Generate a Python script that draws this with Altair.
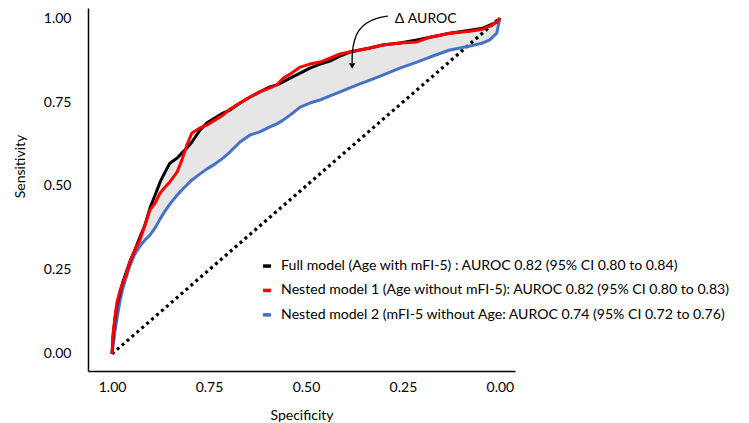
import altair as alt
import pandas as pd

# ---- data ----
specificity = [1.000, 0.997, 0.992, 0.987, 0.979, 0.972, 0.964, 0.954, 0.941, 0.928,
               0.915, 0.902, 0.889, 0.876, 0.863, 0.851, 0.832, 0.820, 0.807, 0.794,
               0.773, 0.755, 0.735, 0.714, 0.696, 0.670, 0.644, 0.619, 0.593, 0.575,
               0.559, 0.541, 0.515, 0.490, 0.464, 0.438, 0.412, 0.387, 0.361, 0.335,
               0.302, 0.258, 0.214, 0.180, 0.129, 0.077, 0.044, 0.026, 0.008, 0.000]

full_model = [0.000, 0.057, 0.107, 0.146, 0.185, 0.214, 0.241, 0.274, 0.310, 0.348,
              0.384, 0.435, 0.473, 0.512, 0.542, 0.568, 0.583, 0.598, 0.613, 0.631,
              0.667, 0.688, 0.702, 0.717, 0.726, 0.747, 0.765, 0.780, 0.795, 0.801,
              0.810, 0.821, 0.836, 0.851, 0.863, 0.872, 0.887, 0.899, 0.905, 0.911,
              0.920, 0.926, 0.935, 0.943, 0.955, 0.964, 0.970, 0.979, 0.988, 1.000]

nested_model_1 = [0.000, 0.063, 0.116, 0.155, 0.190, 0.211, 0.235, 0.274, 0.310, 0.339,
                  0.384, 0.429, 0.449, 0.479, 0.497, 0.512, 0.542, 0.577, 0.622, 0.658,
                  0.673, 0.682, 0.696, 0.711, 0.729, 0.747, 0.765, 0.780, 0.792, 0.801,
                  0.821, 0.833, 0.854, 0.863, 0.869, 0.881, 0.893, 0.899, 0.905, 0.911,
                  0.920, 0.926, 0.929, 0.943, 0.955, 0.961, 0.967, 0.976, 0.988, 1.000]

nested_model_2 = [0.000, 0.027, 0.071, 0.107, 0.161, 0.196, 0.226, 0.262, 0.298, 0.321,
                  0.339, 0.354, 0.375, 0.402, 0.426, 0.446, 0.473, 0.488, 0.503, 0.518,
                  0.536, 0.551, 0.565, 0.583, 0.601, 0.631, 0.652, 0.661, 0.676, 0.685,
                  0.696, 0.711, 0.735, 0.747, 0.756, 0.768, 0.780, 0.792, 0.804, 0.815,
                  0.830, 0.851, 0.869, 0.884, 0.905, 0.917, 0.926, 0.935, 0.955, 1.000]

model_labels = [
    "Full model (Age with mFI-5) : AUROC 0.82 (95% CI 0.80 to 0.84)",
    "Nested model 1 (Age without mFI-5): AUROC 0.82 (95% CI 0.80 to 0.83)",
    "Nested model 2 (mFI-5 without Age: AUROC 0.74 (95% CI 0.72 to 0.76)",
]
model_colors = ["#000000", "#ff0000", "#4472c4"]

diag_spec = [1.0, 0.0]
diag_sens = [0.0, 1.0]

arrow_spec = [0.289, 0.320, 0.345, 0.366, 0.376, 0.381, 0.381]
arrow_sens = [1.006, 1.000, 0.986, 0.963, 0.932, 0.899, 0.866]
arrow_tip_spec = [0.381]
arrow_tip_sens = [0.857]

note_text = ["Δ AUROC"]
note_spec = [0.271]
note_sens = [0.985]

tick_values = [0.0, 0.25, 0.5, 0.75, 1.0]

# ---- tables ----
wide = pd.DataFrame({"spec": specificity, "full": full_model, "nested2": nested_model_2})
rows = []
for lab, series in zip(model_labels, [full_model, nested_model_1, nested_model_2]):
    for i, (s, v) in enumerate(zip(specificity, series)):
        rows.append({"spec": s, "sens": v, "model": lab, "idx": i})
long = pd.DataFrame(rows)
diag = pd.DataFrame({"spec": diag_spec, "sens": diag_sens})
arrow = pd.DataFrame({"spec": arrow_spec, "sens": arrow_sens, "idx": list(range(len(arrow_spec)))})
tip = pd.DataFrame({"spec": arrow_tip_spec, "sens": arrow_tip_sens})
note = pd.DataFrame({"spec": note_spec, "sens": note_sens, "t": note_text})

FONT = "Lato"
x_scale = alt.Scale(domain=[-0.039, 1.062], reverse=True, nice=False, zero=False)
y_scale = alt.Scale(domain=[-0.051, 1.030], nice=False, zero=False)

x_axis = alt.Axis(title="Specificity", values=tick_values, format=".2f",
                  labelPadding=9, titleY=48, titleBaseline="alphabetic")
y_axis = alt.Axis(title="Sensitivity", values=tick_values, format=".2f",
                  labelPadding=17, titleX=-64, titleY=158, titleBaseline="alphabetic")

X = alt.X("spec:Q", scale=x_scale, axis=x_axis)
Y = alt.Y("sens:Q", scale=y_scale, axis=y_axis)

area = alt.Chart(wide).mark_area(color="#e7e6e6", opacity=1).encode(
    x=alt.X("spec:Q", scale=x_scale, axis=x_axis),
    y=alt.Y("full:Q", scale=y_scale, axis=y_axis),
    y2="nested2:Q",
)

diag_line = alt.Chart(diag).mark_line(color="black", strokeWidth=3.2, strokeDash=[3, 3.5]).encode(x=X, y=Y)

legend = alt.Legend(title=None, orient="none", legendX=172, legendY=251,
                    symbolType="stroke", symbolSize=64, symbolStrokeWidth=3.5,
                    labelFont=FONT, labelFontSize=14.1, labelColor="black",
                    labelLimit=700, labelOffset=7, rowPadding=9.4, padding=0)
color = alt.Color("model:N", scale=alt.Scale(domain=model_labels, range=model_colors), legend=legend)

def curve(lab):
    return alt.Chart(long).transform_filter(alt.datum.model == lab).mark_line(
        strokeWidth=3, strokeJoin="round").encode(x=X, y=Y, color=color, order="idx:Q")

blue = curve(model_labels[2])
black = curve(model_labels[0])
red = curve(model_labels[1])

arrow_line = alt.Chart(arrow).mark_line(color="black", strokeWidth=1.3, interpolate="basis").encode(
    x=X, y=Y, order="idx:Q")
arrow_head = alt.Chart(tip).mark_point(shape="triangle-down", filled=True, size=40, color="black", opacity=1).encode(x=X, y=Y)
note_mark = alt.Chart(note).mark_text(align="left", baseline="alphabetic", font=FONT, fontSize=14,
                                      color="black").encode(x=X, y=Y, text="t:N")

chart = alt.layer(area, diag_line, blue, black, red, arrow_line, arrow_head, note_mark).properties(
    width=427, height=363,
    autosize=alt.AutoSizeParams(type="none"),
    padding={"left": 80, "top": 0, "right": 226, "bottom": 53},
    background="white",
).configure_view(stroke=None).configure_axis(
    domainColor="black", domainWidth=1.5, ticks=False, tickSize=0, grid=False,
    labelFont=FONT, titleFont=FONT, labelFontSize=14, titleFontSize=14,
    titleFontWeight="normal", labelColor="black", titleColor="black",
)

chart.save("out.html", embed_options={"renderer": "svg", "actions": False})
